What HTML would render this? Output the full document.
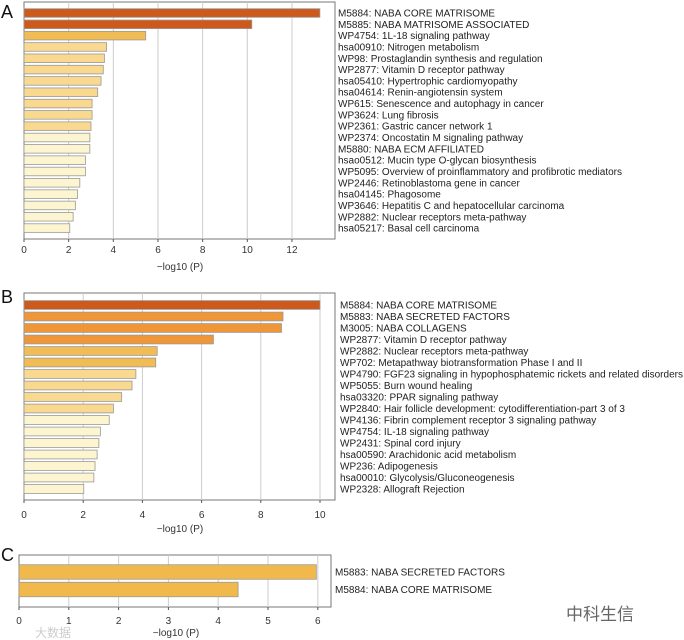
<!DOCTYPE html>
<html><head><meta charset="utf-8"><style>
body{margin:0;background:#fff;}
svg{display:block;font-family:"Liberation Sans","Noto Sans CJK SC",sans-serif;}
</style></head><body>
<svg id="chart" width="684" height="640" viewBox="0 0 684 640" xmlns="http://www.w3.org/2000/svg"></svg>
<script>
const aLabels=["M5884: NABA CORE MATRISOME","M5885: NABA MATRISOME ASSOCIATED","WP4754: 1L-18 signaling pathway","hsa00910: Nitrogen metabolism","WP98: Prostaglandin synthesis and regulation","WP2877: Vitamin D receptor pathway","hsa05410: Hypertrophic cardiomyopathy","hsa04614: Renin-angiotensin system","WP615: Senescence and autophagy in cancer","WP3624: Lung fibrosis","WP2361: Gastric cancer network 1","WP2374: Oncostatin M signaling pathway","M5880: NABA ECM AFFILIATED","hsao0512: Mucin type O-glycan biosynthesis","WP5095: Overview of proinflammatory and profibrotic mediators","WP2446: Retinoblastoma gene in cancer","hsa04145: Phagosome","WP3646: Hepatitis C and hepatocellular carcinoma","WP2882: Nuclear receptors meta-pathway","hsa05217: Basal cell carcinoma"];
const aValues=[13.25,10.2,5.45,3.7,3.6,3.55,3.45,3.3,3.05,3.05,3.0,2.95,2.95,2.75,2.75,2.5,2.4,2.3,2.2,2.05];
const aTicks=[0,2,4,6,8,10,12];
const bLabels=["M5884: NABA CORE MATRISOME","M5883: NABA SECRETED FACTORS","M3005: NABA COLLAGENS","WP2877: Vitamin D receptor pathway","WP2882: Nuclear receptors meta-pathway","WP702: Metapathway biotransformation Phase I and II","WP4790: FGF23 signaling in hypophosphatemic rickets and related disorders","WP5055: Burn wound healing","hsa03320: PPAR signaling pathway","WP2840: Hair follicle development: cytodifferentiation-part 3 of 3","WP4136: Fibrin complement receptor 3 signaling pathway","WP4754: IL-18 signaling pathway","WP2431: Spinal cord injury","hsa00590: Arachidonic acid metabolism","WP236: Adipogenesis","hsa00010: Glycolysis/Gluconeogenesis","WP2328: Allograft Rejection"];
const bValues=[10.0,8.75,8.7,6.4,4.5,4.45,3.78,3.65,3.3,3.02,2.88,2.58,2.53,2.47,2.4,2.36,2.02];
const bTicks=[0,2,4,6,8,10];
const cLabels=["M5883: NABA SECRETED FACTORS","M5884: NABA CORE MATRISOME"];
const cValues=[5.97,4.4];
const cTicks=[0,1,2,3,4,5,6];

const svg=document.getElementById('chart');
const NS='http://www.w3.org/2000/svg';
function mk(tag,attrs,parent){const e=document.createElementNS(NS,tag);for(const k in attrs)e.setAttribute(k,attrs[k]);(parent||svg).appendChild(e);return e;}
function colorFor(v,i,panel){
  if(panel==='c') return '#f1b94c';
  if(v>=9.5) return '#cd5a1c';
  if(v>=6) return '#ef9638';
  if(v>=4.2) return '#f2bc55';
  if(v>=3.0) return '#f8d98f';
  return '#fcf5cf';
}
function panel(id,letter,labels,values,ticks,g){
  const grp=mk('g',{});
  
  
  const x=v=>g.x0+v*g.unit;
  const t=mk('text',{x:g.letterX,y:g.letterY,'font-size':18,fill:'#111'},grp);
  t.textContent=letter;
  
  
  const fr=mk('rect',{x:g.x0,y:g.top,width:g.right-g.x0,height:g.bottom-g.top,fill:'#fff',stroke:'#777','stroke-width':1},grp);
  
  
  ticks.forEach(tv=>{
    if(tv>0){const gl=mk('line',{x1:x(tv),x2:x(tv),y1:g.top,y2:g.bottom,stroke:'#ccc','stroke-width':1},grp);
    
    }
    const tk=mk('line',{x1:x(tv),x2:x(tv),y1:g.bottom,y2:g.bottom+3,stroke:'#555'},grp);
    
    
    const tl=mk('text',{x:x(tv),y:g.tickY,'font-size':10,'text-anchor':'middle',fill:'#333'},grp);
    tl.textContent=tv;
    
    
  });
  values.forEach((v,i)=>{
    const cy=g.firstC+i*g.pitch;
    const b=mk('rect',{x:g.x0,y:cy-g.bh/2,width:x(v)-g.x0,height:g.bh,fill:colorFor(v,i,id),stroke:'#999','stroke-width':0.8},grp);
    
    
    const l=mk('text',{x:g.labelX,y:cy+3.5,'font-size':g.fs,fill:'#222'},grp);
    l.textContent=labels[i];
    
    
  });
  const xt=mk('text',{x:g.titleX,y:g.titleY,'font-size':10,'text-anchor':'middle',fill:'#333'},grp);
  xt.textContent='\u2212log10 (P)';
  
  
}
panel('a','A',aLabels,aValues,aTicks,{x0:24,unit:22.33,right:335,top:2,bottom:239,firstC:13,pitch:11.32,bh:8.6,labelX:338,fs:10,tickY:253,titleY:270,titleX:180,letterX:1,letterY:18});
panel('b','B',bLabels,bValues,bTicks,{x0:24,unit:29.6,right:335,top:293,bottom:500,firstC:305,pitch:11.5,bh:8.8,labelX:340,fs:10,tickY:518,titleY:532,titleX:180,letterX:1,letterY:303});
panel('c','C',cLabels,cValues,cTicks,{x0:19,unit:49.8,right:331,top:555,bottom:607,firstC:572,pitch:17.5,bh:14.5,labelX:335,fs:10,tickY:624,titleY:636,titleX:176,letterX:1,letterY:561});
const wm=mk('text',{x:600,y:620,'font-size':17,fill:'#666','text-anchor':'middle'});
wm.textContent='中科生信';


const wm2=mk('text',{x:35,y:637,'font-size':12,fill:'#ccc'});
wm2.textContent='大数据';


</script>
</body></html>
